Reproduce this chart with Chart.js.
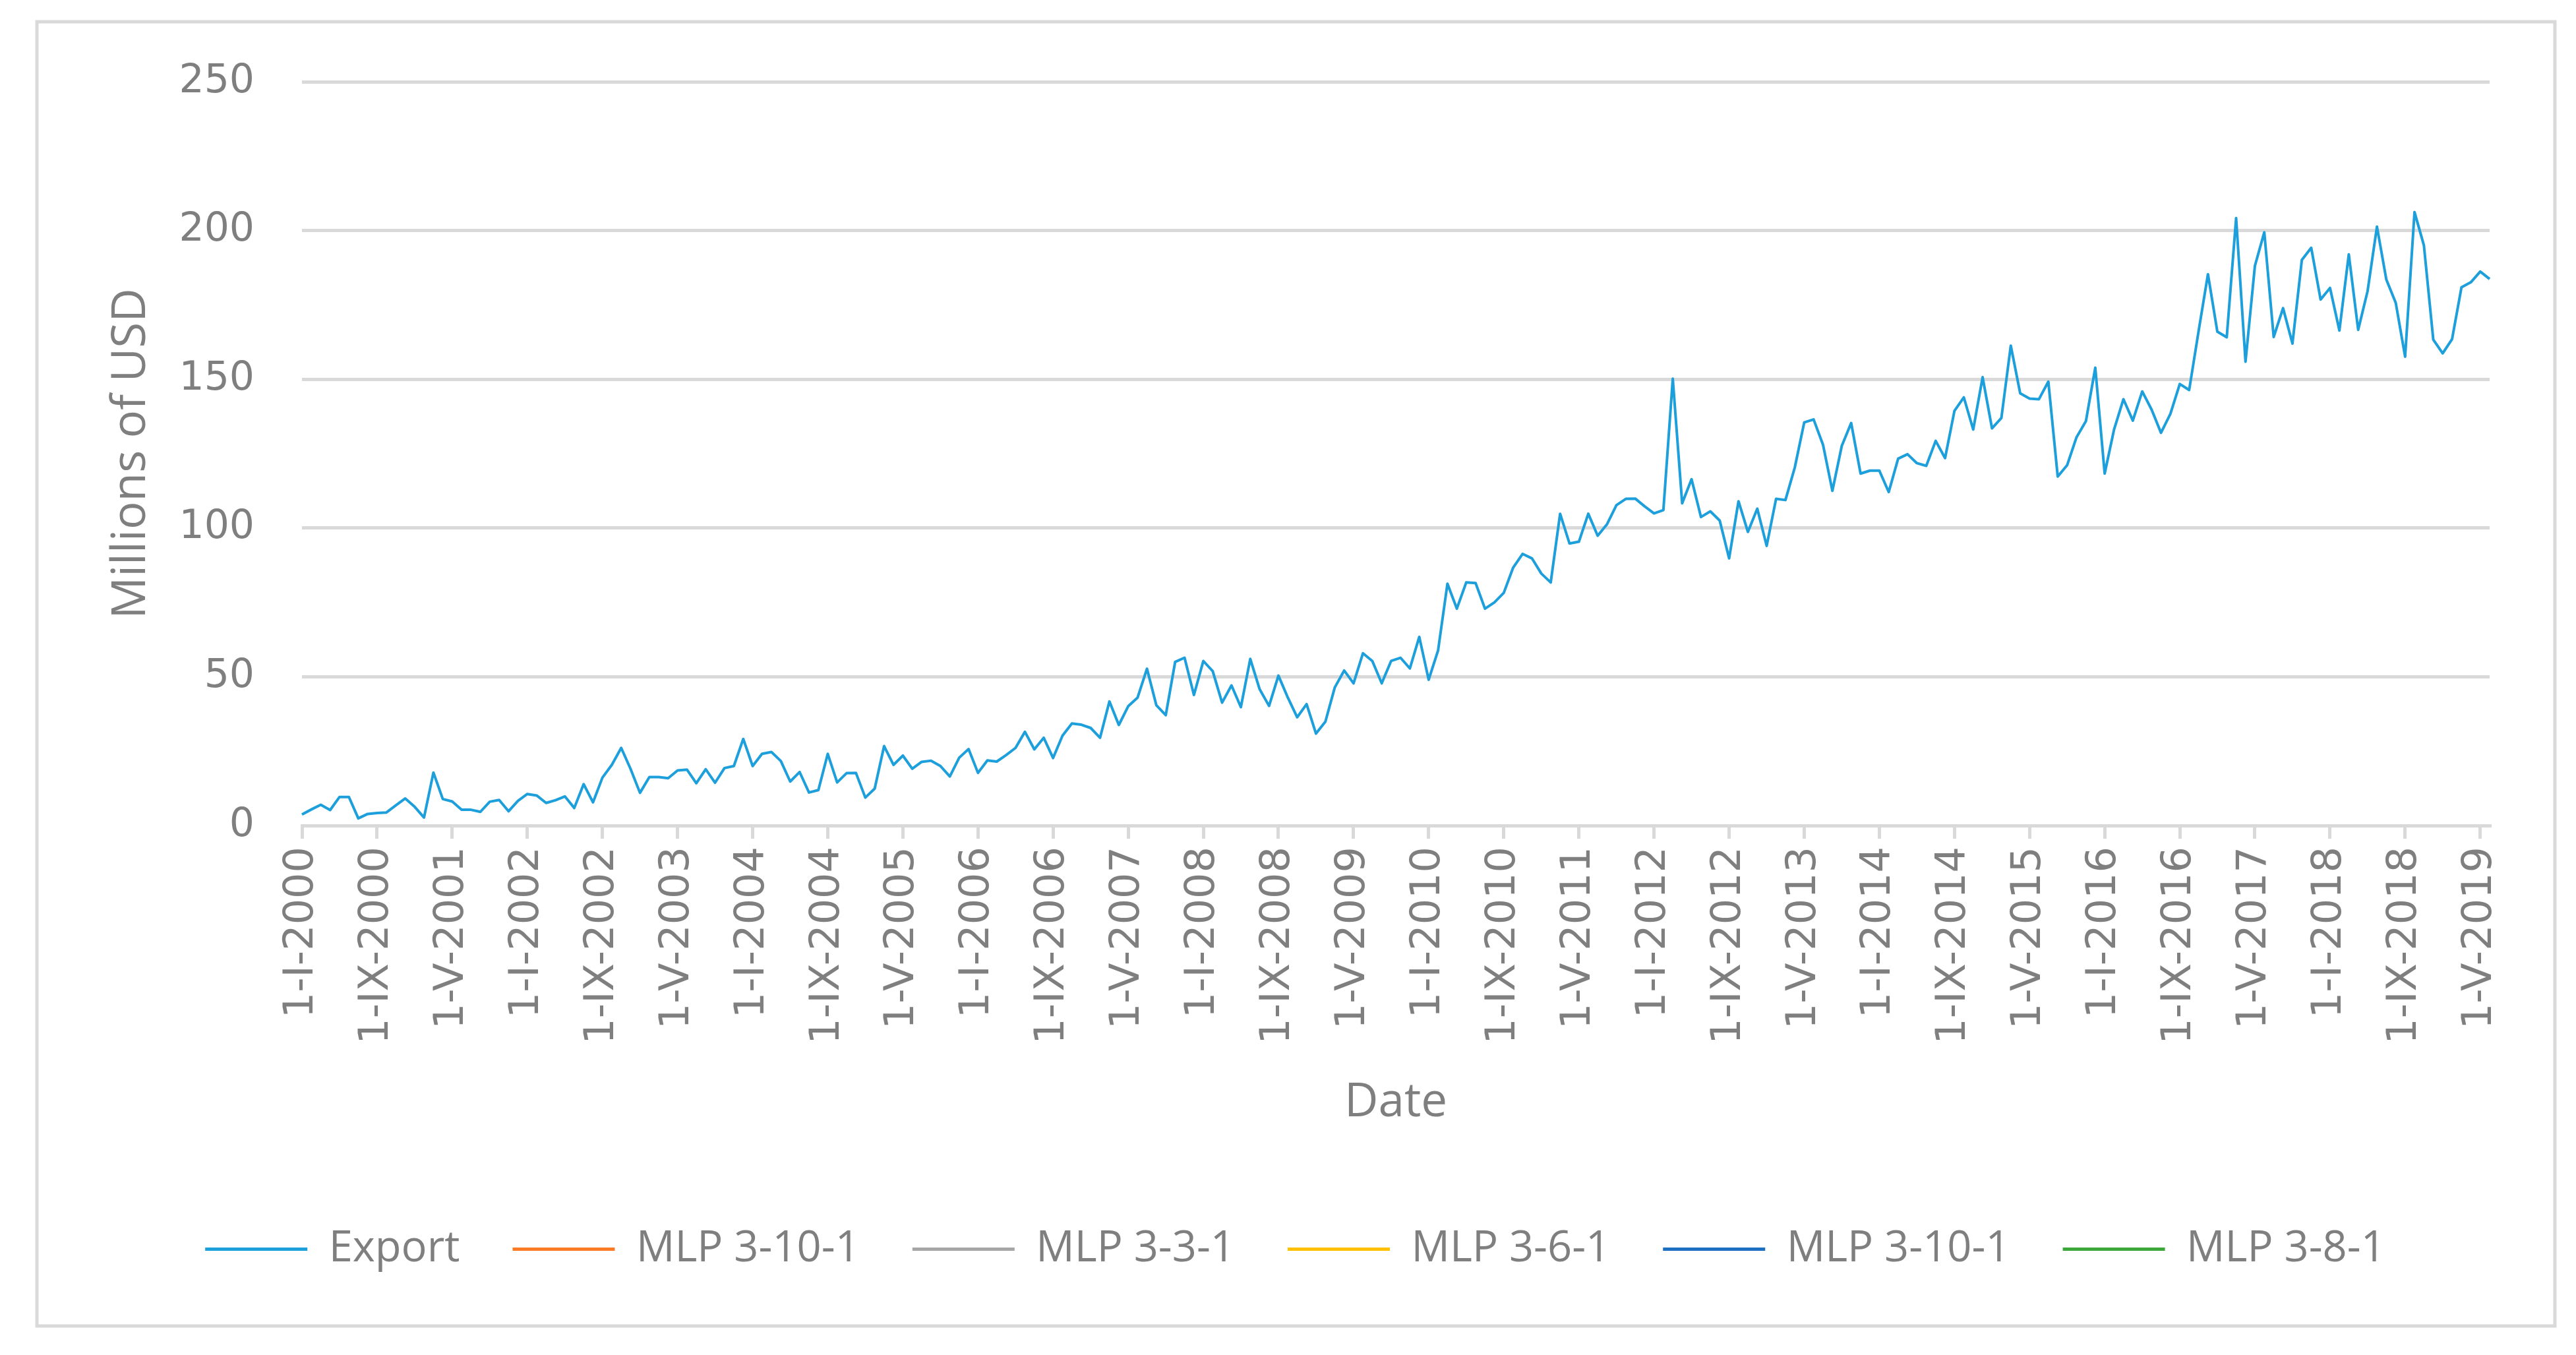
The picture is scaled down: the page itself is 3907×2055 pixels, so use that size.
<!DOCTYPE html>
<html>
<head>
<meta charset="utf-8">
<title>Export vs MLP models</title>
<script src="https://cdn.jsdelivr.net/npm/chart.js@4.4.1/dist/chart.umd.min.js"></script>
<style>
    html, body { margin: 0; padding: 0; background: #ffffff; overflow: hidden; }
    canvas { display: block; }
</style>
</head>
<body>
<canvas id="exportChart" width="3907" height="2055"></canvas>
<script>
// Monthly categories, Jan 2000 .. Jun 2019
const startYear = 2000;
const monthCount = 234;
const romanMonths = ['I', 'II', 'III', 'IV', 'V', 'VI', 'VII', 'VIII', 'IX', 'X', 'XI', 'XII'];
const tickEvery = 8;

// Export, millions of USD (one row per year)
const exportValues = [
    3.7, 5.4, 7.0, 5.2, 9.6, 9.6, 2.4, 3.9, 4.2, 4.4, 6.8, 9.1,
    6.3, 2.7, 17.8, 8.9, 8.1, 5.3, 5.3, 4.6, 8.0, 8.6, 4.8, 8.3,
    10.6, 10.1, 7.6, 8.5, 9.8, 5.9, 13.9, 7.8, 16.1, 20.4, 26.1, 19.0,
    11.0, 16.3, 16.3, 15.9, 18.5, 18.8, 14.2, 18.9, 14.4, 19.3, 20.0, 29.1,
    20.0, 24.1, 24.7, 21.7, 14.8, 18.0, 11.1, 11.9, 24.1, 14.5, 17.6, 17.7,
    9.4, 12.4, 26.7, 20.4, 23.5, 19.1, 21.4, 21.8, 20.0, 16.5, 22.8, 25.7,
    17.7, 21.9, 21.5, 23.7, 26.1, 31.5, 25.6, 29.5, 22.7, 30.2, 34.3, 33.9,
    32.8, 29.5, 41.7, 33.8, 40.1, 43.0, 52.7, 40.4, 37.1, 55.0, 56.4, 43.9,
    55.3, 51.9, 41.3, 47.1, 39.8, 56.0, 45.8, 40.2, 50.4, 43.0, 36.4, 40.8,
    30.9, 34.9, 46.4, 52.1, 47.8, 57.9, 55.3, 47.8, 55.3, 56.4, 52.8, 63.4,
    49.0, 58.8, 81.3, 72.9, 81.7, 81.5, 72.9, 75.0, 78.2, 86.7, 91.3, 89.8,
    84.7, 81.7, 104.8, 94.8, 95.4, 104.8, 97.4, 101.3, 107.7, 109.8, 109.9, 107.3,
    104.9, 106.0, 150.2, 108.3, 116.4, 103.7, 105.6, 102.5, 89.8, 109.0, 98.7, 106.5,
    94.0, 109.8, 109.4, 120.4, 135.5, 136.5, 128.0, 112.5, 127.6, 135.3, 118.3, 119.3,
    119.3, 112.1, 123.3, 124.8, 121.8, 120.9, 129.3, 123.5, 139.4, 143.9, 133.1, 150.7,
    133.5, 137.0, 161.3, 145.3, 143.5, 143.3, 149.2, 117.3, 121.1, 130.5, 135.9, 153.9,
    118.3, 133.1, 143.3, 136.1, 145.9, 139.8, 132.0, 138.4, 148.4, 146.4, 166.1, 185.3,
    166.0, 164.1, 204.2, 155.9, 188.1, 199.4, 164.2, 173.9, 162.0, 190.1, 194.2, 176.8,
    180.7, 166.4, 192.0, 166.6, 179.6, 201.3, 183.5, 175.7, 157.6, 206.2, 195.0, 163.3,
    158.7, 163.5, 180.9, 182.6, 186.2, 183.7
];

// Model series listed in the legend (no values plotted)
const mlp3101a = [];
const mlp331 = [];
const mlp361 = [];
const mlp3101b = [];
const mlp381 = [];

// Y axis ticks
const yTicks = [0, 50, 100, 150, 200, 250];

// Build the date labels like 1-IX-2004
const dateLabels = [];
for (let i = 0; i < monthCount; i++) {
    const year = startYear + Math.floor(i / 12);
    dateLabels.push('1-' + romanMonths[i % 12] + '-' + year);
}

const textGray = '#7f7f7f';
const gridGray = '#d9d9d9';

// White background and the outer frame
const framePlugin = {
    id: 'frame',
    beforeDraw(chart) {
        const ctx = chart.ctx;
        ctx.save();
        ctx.fillStyle = '#ffffff';
        ctx.fillRect(0, 0, chart.width, chart.height);
        ctx.strokeStyle = gridGray;
        ctx.lineWidth = 5;
        ctx.strokeRect(56, 33, 3819, 1978);
        ctx.restore();
    }
};

function series(label, data, color, width) {
    return {
        label: label,
        data: data,
        borderColor: color,
        backgroundColor: color,
        borderWidth: width,
        pointRadius: 0,
        tension: 0,
        fill: false,
        borderJoinStyle: 'round'
    };
}

new Chart(document.getElementById('exportChart'), {
    type: 'line',
    data: {
        labels: dateLabels,
        datasets: [
            series('Export', exportValues, '#1c9fdb', 4),
            series('MLP 3-10-1', mlp3101a, '#fb7a25', 4),
            series('MLP 3-3-1', mlp331, '#a6a6a6', 4),
            series('MLP 3-6-1', mlp361, '#ffc000', 4),
            series('MLP 3-10-1', mlp3101b, '#1d6fc1', 4),
            series('MLP 3-8-1', mlp381, '#3ca83b', 4)
        ]
    },
    options: {
        responsive: false,
        devicePixelRatio: 1,
        animation: false,
        layout: {
            padding: { left: 153, right: 131, top: 124, bottom: 118 }
        },
        plugins: {
            legend: {
                position: 'bottom',
                labels: {
                    color: textGray,
                    font: { family: 'Open Sans', size: 65 },
                    boxWidth: 155,
                    boxHeight: 5,
                    padding: 80,
                    generateLabels(chart) {
                        const items = Chart.defaults.plugins.legend.labels.generateLabels(chart);
                        items.forEach(item => {
                            item.fillStyle = item.strokeStyle;
                            item.lineWidth = 0;
                        });
                        return items;
                    }
                }
            },
            tooltip: { enabled: false },
            title: { display: false }
        },
        scales: {
            x: {
                type: 'category',
                offset: false,
                afterBuildTicks(scale) {
                    scale.ticks = scale.ticks.filter(t => t.value % tickEvery === 0);
                },
                afterFit(scale) {
                    scale.height = 530;
                },
                ticks: {
                    autoSkip: false,
                    minRotation: 90,
                    maxRotation: 90,
                    padding: 12,
                    color: textGray,
                    font: { family: 'DejaVu Sans', size: 62 }
                },
                grid: {
                    display: true,
                    drawOnChartArea: false,
                    drawTicks: true,
                    tickLength: 20,
                    color: gridGray,
                    lineWidth: 5
                },
                border: { display: true, color: gridGray, width: 5 },
                title: {
                    display: true,
                    text: 'Date',
                    color: textGray,
                    font: { family: 'Open Sans', size: 71 },
                    padding: { top: 0, bottom: 67 }
                }
            },
            y: {
                min: 0,
                max: 250,
                afterBuildTicks(scale) {
                    scale.ticks = yTicks.map(v => ({ value: v }));
                },
                afterFit(scale) {
                    scale.width = 305;
                },
                ticks: {
                    padding: 72,
                    color: textGray,
                    font: { family: 'DejaVu Sans', size: 60 }
                },
                grid: {
                    color: gridGray,
                    lineWidth: 5,
                    drawTicks: false
                },
                border: { display: false },
                title: {
                    display: true,
                    text: 'Millions of USD',
                    color: textGray,
                    font: { family: 'Open Sans', size: 71 },
                    padding: { top: 4, bottom: 0 }
                }
            }
        }
    },
    plugins: [framePlugin]
});
</script>
</body>
</html>
